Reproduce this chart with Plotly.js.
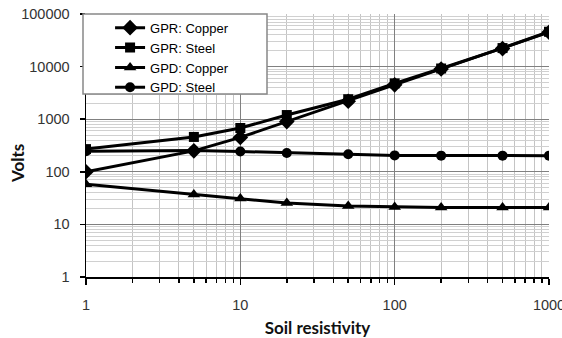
<!DOCTYPE html>
<html>
<head>
<meta charset="utf-8">
<script src="https://cdn.plot.ly/plotly-3.0.1.min.js"></script>
<style>html,body{margin:0;padding:0;background:#fff;}#chart{width:562px;height:338px;}</style>
</head>
<body>
<div id="chart"></div>
<script>
const resistivity = [1, 5, 10, 20, 50, 100, 200, 500, 1000];
const gprCopper = [100, 250, 450, 900, 2200, 4500, 9000, 22000, 45000];
const gprSteel = [270, 460, 680, 1200, 2400, 4800, 9200, 22500, 46000];
const gpdCopper = [58, 37, 31, 25.5, 22.5, 21.5, 21, 21, 21];
const gpdSteel = [245, 255, 243, 228, 215, 205, 203, 203, 203];
const seriesNames = ['GPR: Copper', 'GPR: Steel', 'GPD: Copper', 'GPD: Steel'];
const xTickVals = [1, 10, 100, 1000];
const xTickText = ['1', '10', '100', '1000'];
const yTickVals = [1, 10, 100, 1000, 10000, 100000];
const yTickText = ['1', '10', '100', '1000', '10000', '100000'];

const symbols = ['diamond', 'square', 'triangle-up', 'circle'];
const sizes = [12, 10, 11, 10];
const ys = [gprCopper, gprSteel, gpdCopper, gpdSteel];
const traces = ys.map((y, i) => ({
  x: resistivity, y: y, name: seriesNames[i], type: 'scatter', mode: 'lines+markers',
  line: {color: '#000', width: 3},
  marker: {symbol: symbols[i], size: sizes[i], color: '#000'}
}));

const tickFont = {family: 'Liberation Sans, Arial, sans-serif', size: 14.5, color: '#333'};
const titleFont = {family: 'Lato, Calibri, sans-serif', size: 17, color: '#111', weight: 'bold'};

const layout = {
  width: 562, height: 338,
  margin: {l: 86, r: 13, t: 14, b: 61},
  paper_bgcolor: '#fff', plot_bgcolor: '#fff',
  showlegend: true,
  legend: {x: 0.052, y: 1.005, xanchor: 'left', yanchor: 'top', bgcolor: 'rgba(0,0,0,0)',
    borderwidth: 0, font: {family: 'Liberation Sans, Arial, sans-serif', size: 13, color: '#000'},
    tracegroupgap: 0},
  xaxis: {type: 'log', range: [0, 3], tickvals: xTickVals, ticktext: xTickText,
    tickfont: tickFont, ticks: 'outside', ticklen: 6, tickcolor: '#000', tickwidth: 1.5,
    showline: true, linecolor: '#000', linewidth: 1.5, showgrid: true, gridcolor: '#808080',
    ticklabelstandoff: 8, ticklabeloverflow: 'allow',
    minor: {dtick: 'D1', showgrid: true, gridcolor: '#c4c4c4', ticks: 'outside', ticklen: 4, tickcolor: '#000', tickwidth: 1.5},
    title: {text: 'Soil resistivity', font: titleFont, standoff: 10}, zeroline: false},
  yaxis: {type: 'log', range: [0, 5], tickvals: yTickVals, ticktext: yTickText,
    tickfont: tickFont, ticks: 'outside', ticklen: 5, tickcolor: '#000', tickwidth: 1.5,
    showline: true, linecolor: '#000', linewidth: 1.5, showgrid: true, gridcolor: '#808080',
    ticklabelstandoff: 7,
    minor: {dtick: 'D1', showgrid: true, gridcolor: '#d0d0d0'},
    zeroline: false},
  annotations: [{text: 'Volts', xref: 'paper', yref: 'paper', x: (17 - 86) / 463, y: 1 - (164 - 14) / 263,
    xanchor: 'center', yanchor: 'middle', textangle: -90, showarrow: false, font: titleFont}],
  shapes: [{type: 'rect', xref: 'paper', yref: 'paper', layer: 'above',
    x0: -3/463, x1: 181/463, y0: 1 - 80/263, y1: 1,
    line: {color: '#888', width: 1.5}, fillcolor: '#fff'}]
};
Plotly.newPlot('chart', traces, layout, {displayModeBar: false, staticPlot: true});
</script>
</body>
</html>
